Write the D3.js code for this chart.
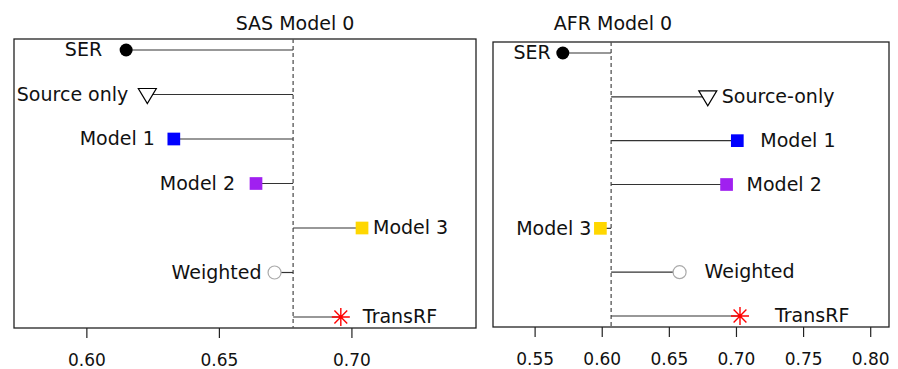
<!DOCTYPE html>
<html>
<head>
<meta charset="utf-8">
<title>SAS / AFR Model 0</title>
<script src="https://d3js.org/d3.v7.min.js"></script>
<style>
  body { margin: 0; background: #fff; }
  text { font-family: "DejaVu Sans", sans-serif; fill: #111; }
</style>
</head>
<body>
<svg id="chart" width="898" height="369"></svg>
<script>
// methods, top to bottom
const methods = ["SER", "Source", "Model 1", "Model 2", "Model 3", "Weighted", "TransRF"];
const shapes = ["dot", "triangle", "square", "square", "square", "ring", "star"];
const colors = ["#000000", "#000000", "#0000ff", "#a020f0", "#ffd700", "#aaaaaa", "#ff0000"];

// SAS panel
const sasLabels = ["SER", "Source only", "Model 1", "Model 2", "Model 3", "Weighted", "TransRF"];
const sasValues = [0.615, 0.623, 0.633, 0.664, 0.704, 0.671, 0.696];
const sasBaseline = 0.678;
const sasTicks = [0.60, 0.65, 0.70];
const sasLabelDx = [-24, -19, -19, -21, 11, -13, 22];

// AFR panel
const afrLabels = ["SER", "Source-only", "Model 1", "Model 2", "Model 3", "Weighted", "TransRF"];
const afrValues = [0.571, 0.679, 0.701, 0.693, 0.599, 0.658, 0.703];
const afrBaseline = 0.607;
const afrTicks = [0.55, 0.60, 0.65, 0.70, 0.75, 0.80];
const afrLabelDx = [-12, 14, 23, 20, -9, 25, 35];

const svg = d3.select("#chart");

const panels = [
  { title: "SAS Model 0", titleX: 295, titleY: 29.5, labels: sasLabels, values: sasValues,
    base: sasBaseline, ticks: sasTicks, dx: sasLabelDx,
    domain: [0.5727, 0.747], box: { x0: 14, x1: 476, y0: 39, y1: 328 } },
  { title: "AFR Model 0", titleX: 613, titleY: 30, labels: afrLabels, values: afrValues,
    base: afrBaseline, ticks: afrTicks, dx: afrLabelDx,
    domain: [0.519, 0.814], box: { x0: 493, x1: 889, y0: 42, y1: 327 } }
];

// marker paths
function markerPath(shape) {
  if (shape === "dot" || shape === "ring") return d3.symbol(d3.symbolCircle, Math.PI * 6.5 * 6.5)();
  if (shape === "square") return d3.symbol(d3.symbolSquare, 12.7 * 12.7)();
  if (shape === "triangle") return "M-9,-6L9,-6L0,9Z";
  // asterisk: + and x
  const r = 9, d = 6.4;
  return `M${-r},0L${r},0M0,${-r}L0,${r}M${-d},${-d}L${d},${d}M${-d},${d}L${d},${-d}`;
}

panels.forEach(p => {
  const b = p.box;
  const x = d3.scaleLinear().domain(p.domain).range([b.x0, b.x1]);
  const y = d3.scalePoint().domain(methods).range([b.y0 + 11, b.y1 - 11]);
  const g = svg.append("g");

  // title
  g.append("text")
    .attr("x", p.titleX).attr("y", p.titleY)
    .attr("text-anchor", "middle")
    .style("font-size", "19px")
    .text(p.title);

  // axis
  const axis = g.append("g")
    .attr("transform", `translate(0,${b.y1})`)
    .call(d3.axisBottom(x).tickValues(p.ticks).tickFormat(d3.format(".2f"))
      .tickSize(10).tickPadding(16));
  axis.select(".domain").remove();
  axis.selectAll(".tick line").attr("stroke", "#222").attr("stroke-width", 1.2);
  axis.selectAll(".tick text").style("font-size", "17px")
    .style("font-family", "'DejaVu Sans', sans-serif").attr("fill", "#111");

  // box
  g.append("rect")
    .attr("x", b.x0).attr("y", b.y0)
    .attr("width", b.x1 - b.x0).attr("height", b.y1 - b.y0)
    .attr("fill", "none").attr("stroke", "#222").attr("stroke-width", 1.3);

  // baseline
  g.append("line")
    .attr("x1", x(p.base)).attr("x2", x(p.base))
    .attr("y1", b.y0).attr("y2", b.y1)
    .attr("stroke", "#555").attr("stroke-width", 1.3)
    .attr("stroke-dasharray", "4,3");

  const rows = methods.map((m, i) => ({ m, i, v: p.values[i], label: p.labels[i], dx: p.dx[i] }));

  // connectors
  g.selectAll(".conn").data(rows).join("line")
    .attr("x1", x(p.base)).attr("x2", d => x(d.v))
    .attr("y1", d => y(d.m)).attr("y2", d => y(d.m))
    .attr("stroke", "#333").attr("stroke-width", 1.2);

  // markers
  g.selectAll(".mark").data(rows).join("path")
    .attr("transform", d => `translate(${x(d.v)},${y(d.m)})`)
    .attr("d", d => markerPath(shapes[d.i]))
    .attr("fill", d => {
      const s = shapes[d.i];
      if (s === "triangle" || s === "ring") return "#fff";
      if (s === "star") return "none";
      return colors[d.i];
    })
    .attr("stroke", d => {
      const s = shapes[d.i];
      if (s === "square" || s === "dot") return "none";
      return colors[d.i];
    })
    .attr("stroke-width", d => shapes[d.i] === "star" ? 1.4 : 1.2);

  // labels
  g.selectAll(".lab").data(rows).join("text")
    .attr("x", d => x(d.v) + d.dx)
    .attr("y", d => y(d.m))
    .attr("dy", "0.33em")
    .attr("text-anchor", d => d.dx < 0 ? "end" : "start")
    .style("font-size", "19px")
    .text(d => d.label);
});
</script>
</body>
</html>
